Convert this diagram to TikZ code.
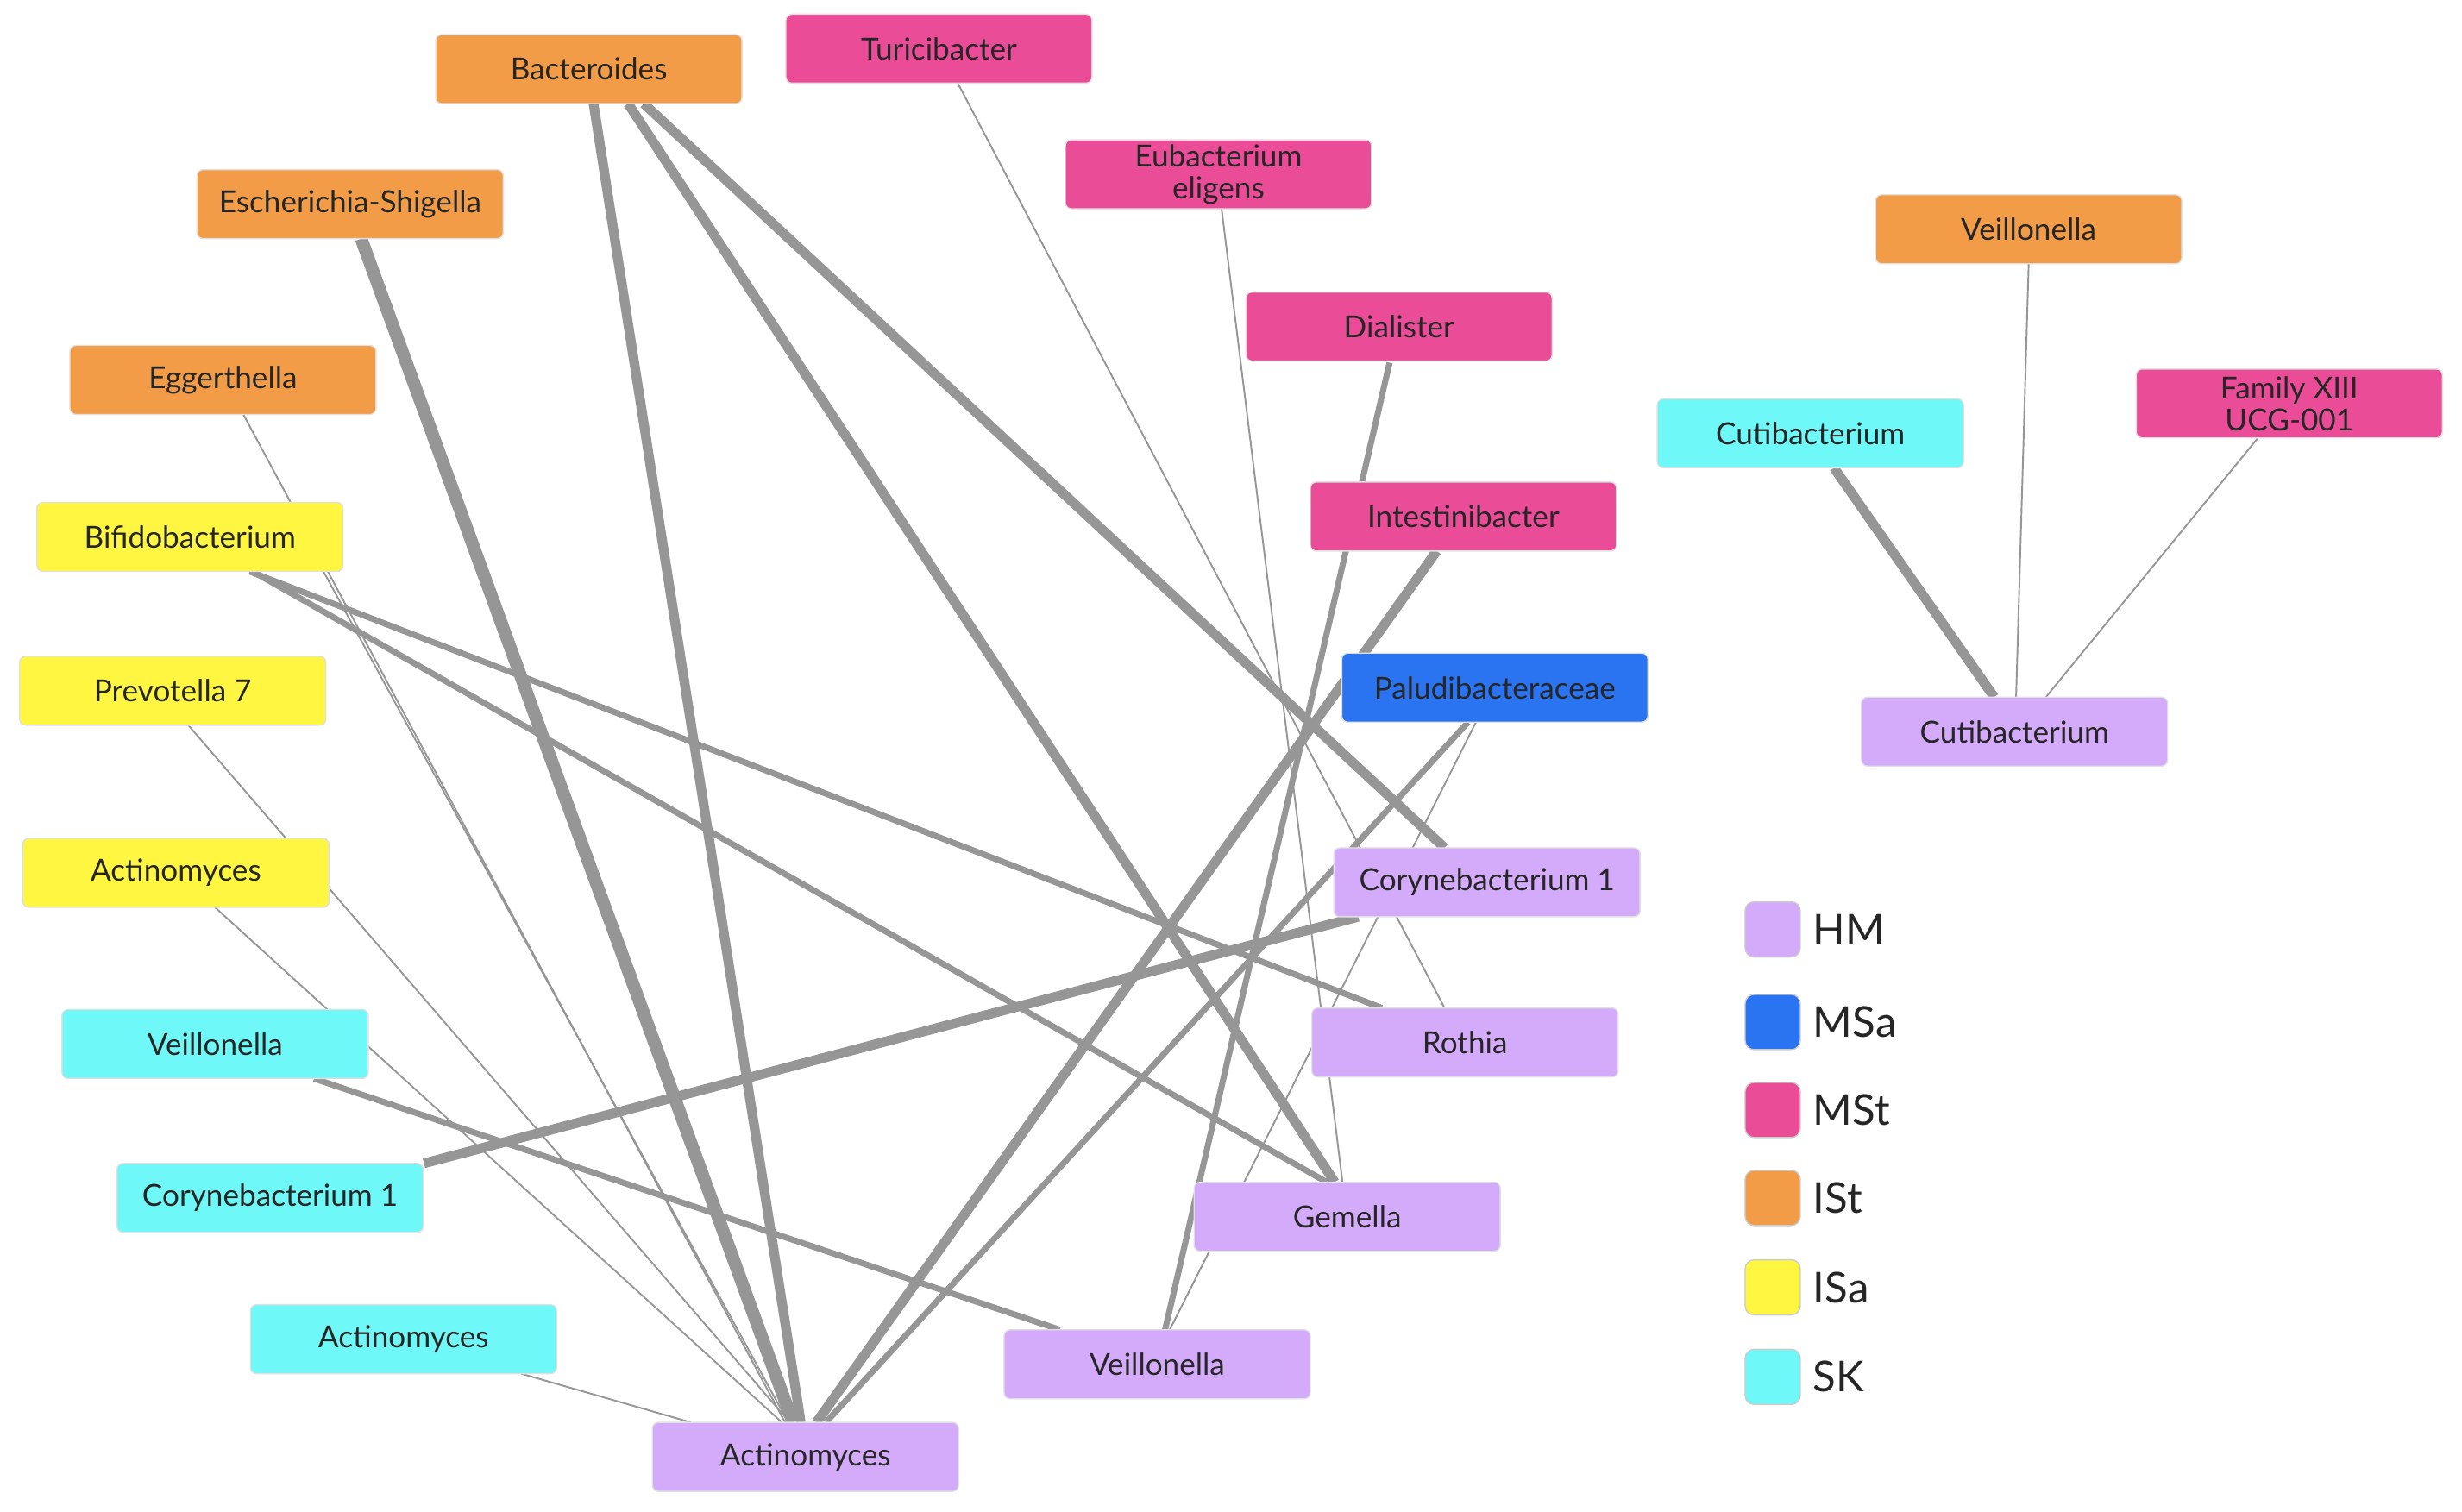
\documentclass[tikz,border=0pt]{standalone}
\usepackage{fontspec}
\setmainfont{Lato}
\usetikzlibrary{backgrounds}
\definecolor{hm}{RGB}{212,170,250}
\definecolor{msa}{RGB}{42,116,242}
\definecolor{mst}{RGB}{234,76,152}
\definecolor{ist}{RGB}{242,156,72}
\definecolor{isa}{RGB}{255,246,66}
\definecolor{sk}{RGB}{110,248,248}
\definecolor{eg}{RGB}{150,150,150}
\begin{document}
\begin{tikzpicture}[x=0.0182cm,y=-0.0182cm,
 box/.style={draw=black!12,rounded corners=2pt,minimum width=3.55cm,minimum height=0.8cm,inner sep=1pt,font=\fontsize{10}{10.5}\selectfont,text=black!85,align=center},
 thin/.style={draw=eg,line width=0.55pt},
 med/.style={draw=eg,line width=2pt},
 thk/.style={draw=eg,line width=3.2pt},
 vthk/.style={draw=eg,line width=4.2pt},
 leg/.style={draw=black!20,rounded corners=3pt,minimum size=0.64cm,inner sep=0pt},
 legt/.style={anchor=west,font=\fontsize{14}{14}\selectfont,text=black!85}]
\useasboundingbox (0,0) rectangle (1568,963);
\node[box,fill=ist] (bac) at (375,44) {Bacteroides};
\node[box,fill=mst] (tur) at (598,31) {Turicibacter};
\node[box,fill=ist] (esc) at (223,130) {Escherichia-Shigella};
\node[box,fill=mst] (eub) at (776,111) {Eubacterium\\eligens};
\node[box,fill=ist] (veo) at (1292,146) {Veillonella};
\node[box,fill=mst] (dia) at (891,208) {Dialister};
\node[box,fill=ist] (egg) at (142,242) {Eggerthella};
\node[box,fill=sk] (cuts) at (1153,276) {Cutibacterium};
\node[box,fill=mst] (fam) at (1458,257) {Family XIII\\UCG-001};
\node[box,fill=mst] (int) at (932,329) {Intestinibacter};
\node[box,fill=isa] (bif) at (121,342) {Bifidobacterium};
\node[box,fill=msa] (pal) at (952,438) {Paludibacteraceae};
\node[box,fill=isa] (pre) at (110,440) {Prevotella 7};
\node[box,fill=hm] (cuth) at (1283,466) {Cutibacterium};
\node[box,fill=isa] (acy) at (112,556) {Actinomyces};
\node[box,fill=hm] (cor) at (947,562) {Corynebacterium 1};
\node[box,fill=sk] (ves) at (137,665) {Veillonella};
\node[box,fill=hm] (rot) at (933,664) {Rothia};
\node[box,fill=sk] (cos) at (172,763) {Corynebacterium 1};
\node[box,fill=hm] (gem) at (858,775) {Gemella};
\node[box,fill=sk] (acs) at (257,853) {Actinomyces};
\node[box,fill=hm] (veh) at (737,869) {Veillonella};
\node[box,fill=hm] (ach) at (513,928) {Actinomyces};
\begin{scope}[on background layer]
\draw[thk]  ([shift={(3,22)}]bac.center)   -- ([shift={(-3,-22)}]ach.center);
\draw[thk]  ([shift={(25,22)}]bac.center)  -- ([shift={(-8,-22)}]gem.center);
\draw[thk]  ([shift={(35,22)}]bac.center)  -- ([shift={(-27,-22)}]cor.center);
\draw[vthk] ([shift={(7,22)}]esc.center)   -- ([shift={(-8,-22)}]ach.center);
\draw[thin] ([shift={(12,22)}]tur.center)  -- ([shift={(-13,-22)}]rot.center);
\draw[thin] ([shift={(2,22)}]eub.center)   -- ([shift={(-3,-22)}]gem.center);
\draw[med]  ([shift={(-6,23)}]dia.center)  -- ([shift={(5,-22)}]veh.center);
\draw[thk]  ([shift={(-17,22)}]int.center) -- ([shift={(7,-22)}]ach.center);
\draw[med]  ([shift={(-17,22)}]pal.center) -- ([shift={(13,-22)}]ach.center);
\draw[thin] ([shift={(-12,22)}]pal.center) -- ([shift={(8,-22)}]veh.center);
\draw[thin] ([shift={(13,22)}]egg.center)  -- ([shift={(-13,-22)}]ach.center);
\draw[thin] ([shift={(85,22)}]bif.center)  -- ([shift={(-11,-22)}]ach.center);
\draw[med]  ([shift={(38,22)}]bif.center)  -- ([shift={(-53,-22)}]rot.center);
\draw[med]  ([shift={(40,22)}]bif.center)  -- ([shift={(-13,-22)}]gem.center);
\draw[thin] ([shift={(10,22)}]pre.center)  -- ([shift={(-10,-22)}]ach.center);
\draw[thin] ([shift={(25,22)}]acy.center)  -- ([shift={(-15,-22)}]ach.center);
\draw[med]  ([shift={(63,22)}]ves.center)  -- ([shift={(-62,-22)}]veh.center);
\draw[thk]  ([shift={(98,-22)}]cos.center) -- ([shift={(-82,22)}]cor.center);
\draw[thin] ([shift={(75,22)}]acs.center)  -- ([shift={(-73,-22)}]ach.center);
\draw[thk]  ([shift={(15,22)}]cuts.center) -- ([shift={(-13,-22)}]cuth.center);
\draw[thin] ([shift={(0,22)}]veo.center)   -- ([shift={(1,-22)}]cuth.center);
\draw[thin] ([shift={(-20,22)}]fam.center) -- ([shift={(20,-22)}]cuth.center);
\end{scope}
\foreach \y/\c/\t in {592/hm/HM,651/msa/MSa,707/mst/MSt,763/ist/ISt,820/isa/ISa,877/sk/SK}{
  \node[leg,fill=\c] (L\t) at (1129,\y) {};
  \node[legt] (T\t) at (1148,\y) {\t};
}
\end{tikzpicture}
\end{document}
